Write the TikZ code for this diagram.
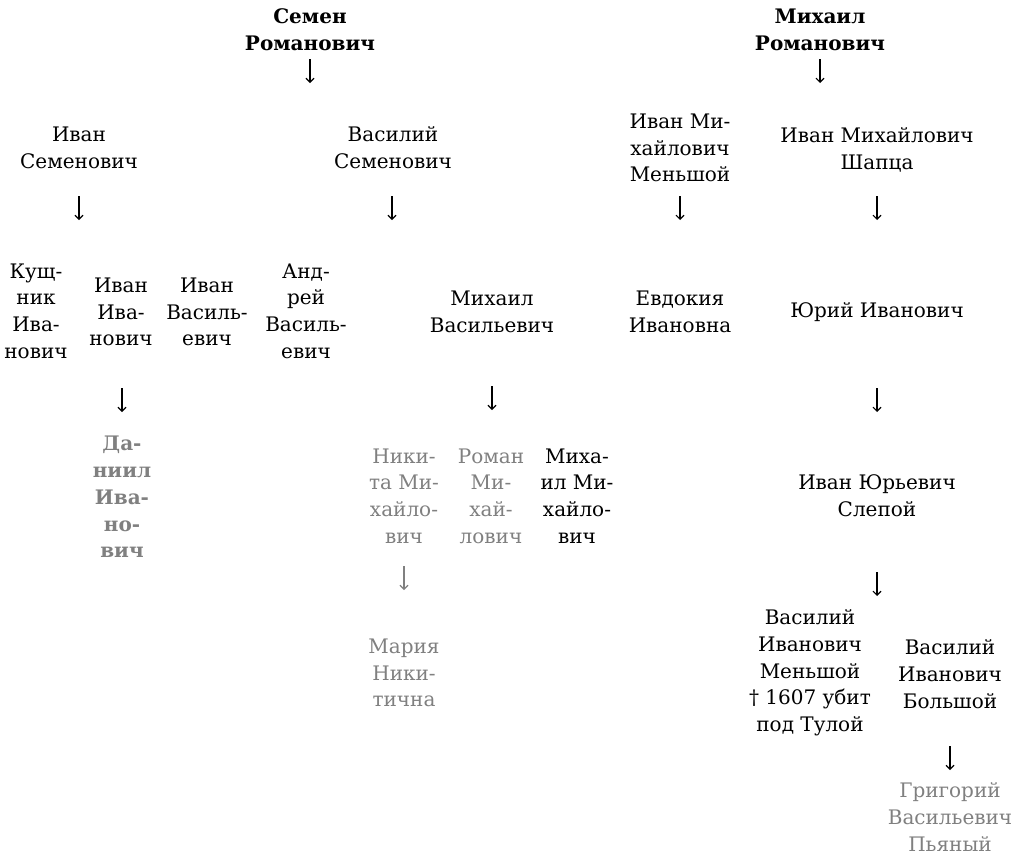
\documentclass[tikz,border=0pt]{standalone}
\usepackage{fontspec}
\setmainfont{DejaVu Serif}
\usetikzlibrary{arrows.meta}
\definecolor{greytext}{RGB}{128,128,128}
\tikzset{
  person/.style={align=center, inner sep=0pt, font=\fontsize{20}{26.7}\selectfont},
  boldperson/.style={person, font=\fontsize{20}{26.7}\selectfont\bfseries},
  faded/.style={text=greytext},
  arr/.style={line width=1.1pt, -{Straight Barb[length=4pt,width=8pt,line width=1.1pt]}},
  fadedarr/.style={arr, draw=greytext},
}
\begin{document}
\begin{tikzpicture}[x=1pt,y=-1pt]
\useasboundingbox (0,0) rectangle (1019,855);
% generation 1
\node[boldperson] (sr) at (310,30) {Семен\\Романович};
\node[boldperson] (mr) at (820,30) {Михаил\\Романович};
% generation 2
\node[person] (is) at (79,148) {Иван\\Семенович};
\node[person] (vs) at (393,148) {Василий\\Семенович};
\node[person] (imm) at (680,148) {Иван Ми-\\хайлович\\Меньшой};
\node[person] (ims) at (877,150) {Иван Михайлович\\Шапца};
% generation 3
\node[person] (ki) at (36,311) {Кущ-\\ник\\Ива-\\нович};
\node[person] (ii) at (121,312) {Иван\\Ива-\\нович};
\node[person] (iv) at (207,312) {Иван\\Василь-\\евич};
\node[person] (av) at (306,311) {Анд-\\рей\\Василь-\\евич};
\node[person] (mv) at (492,312) {Михаил\\Васильевич};
\node[person] (ei) at (680,312) {Евдокия\\Ивановна};
\node[person] (yi) at (877,312) {Юрий Иванович};
% generation 4
\node[boldperson,faded] (di) at (122,497) {Да-\\ниил\\Ива-\\но-\\вич};
\node[person,faded] (nm) at (404,496) {Ники-\\та Ми-\\хайло-\\вич};
\node[person,faded] (rm) at (491,496) {Роман\\Ми-\\хай-\\лович};
\node[person] (mm) at (577,496) {Миха-\\ил Ми-\\хайло-\\вич};
\node[person] (iys) at (877,496) {Иван Юрьевич\\Слепой};
% generation 5
\node[person,faded] (mn) at (404,673) {Мария\\Ники-\\тична};
\node[person] (vim) at (810,673) {Василий\\Иванович\\Меньшой\\† 1607 убит\\под Тулой};
\node[person] (vib) at (950,674) {Василий\\Иванович\\Большой};
% generation 6
\node[person,faded] (gv) at (950,817) {Григорий\\Васильевич\\Пьяный};
% arrow end points
\coordinate (a1s) at (310,59);  \coordinate (a1e) at (310,83);
\coordinate (a2s) at (820,59);  \coordinate (a2e) at (820,83);
\coordinate (a3s) at (79,196);  \coordinate (a3e) at (79,220);
\coordinate (a4s) at (392,196); \coordinate (a4e) at (392,220);
\coordinate (a5s) at (680,196); \coordinate (a5e) at (680,220);
\coordinate (a6s) at (877,196); \coordinate (a6e) at (877,220);
\coordinate (a7s) at (122,388); \coordinate (a7e) at (122,412);
\coordinate (a8s) at (492,386); \coordinate (a8e) at (492,410);
\coordinate (a9s) at (877,388); \coordinate (a9e) at (877,412);
\coordinate (a10s) at (404,566); \coordinate (a10e) at (404,590);
\coordinate (a11s) at (877,572); \coordinate (a11e) at (877,596);
\coordinate (a12s) at (950,746); \coordinate (a12e) at (950,770);
\draw[arr] (a1s) -- (a1e);
\draw[arr] (a2s) -- (a2e);
\draw[arr] (a3s) -- (a3e);
\draw[arr] (a4s) -- (a4e);
\draw[arr] (a5s) -- (a5e);
\draw[arr] (a6s) -- (a6e);
\draw[arr] (a7s) -- (a7e);
\draw[arr] (a8s) -- (a8e);
\draw[arr] (a9s) -- (a9e);
\draw[fadedarr] (a10s) -- (a10e);
\draw[arr] (a11s) -- (a11e);
\draw[arr] (a12s) -- (a12e);
\end{tikzpicture}
\end{document}
